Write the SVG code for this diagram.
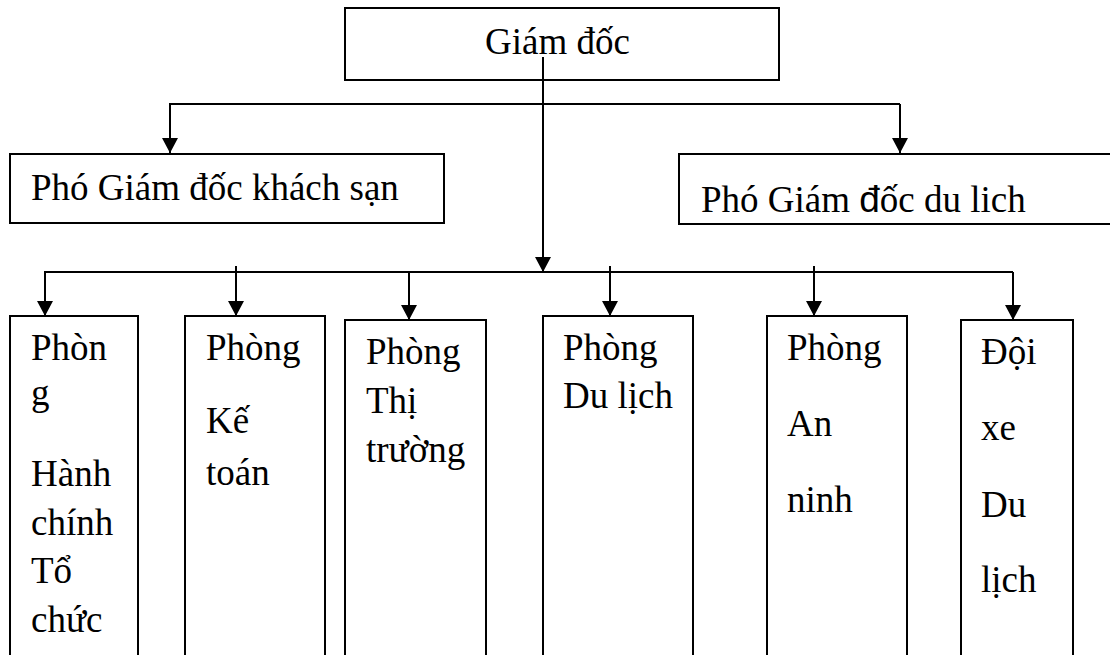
<svg xmlns="http://www.w3.org/2000/svg" width="1110" height="655" viewBox="0 0 1110 655">
<style>
.box{fill:#fff;stroke:#000;stroke-width:2}
.t{font-family:"Liberation Serif","Times New Roman",serif;font-size:37px;fill:#000}
.ln{fill:none;stroke:#000;stroke-width:2}
.sans{font-family:"Liberation Sans",Arial,sans-serif}
</style>
<defs>
<marker id="ah" markerWidth="15" markerHeight="16" refX="15" refY="8" orient="auto" markerUnits="userSpaceOnUse" viewBox="0 0 15 16">
<path d="M0,0 L15,8 L0,16 Z" fill="#000"/>
</marker>
</defs>
<rect width="1110" height="655" fill="#fff"/>
<g id="giam-doc">
<rect class="box" x="345" y="8" width="434" height="72"/>
<text class="t" x="485" y="54">Giám đốc</text>
</g>
<g id="pho-gd-khach-san">
<rect class="box" x="10" y="154" width="434" height="69"/>
<text class="t" x="31" y="200">Phó Giám đốc khách sạn</text>
</g>
<g id="pho-gd-du-lich">
<rect class="box" x="679" y="154" width="440" height="70"/>
<text class="t" x="701" y="212">Phó Giám <tspan class="sans">đ</tspan>ốc du lich</text>
</g>
<g id="phong-hanh-chinh">
<rect class="box" x="10" y="316" width="128" height="350"/>
<text class="t" x="31" y="360">Phòn</text>
<text class="t" x="31" y="405">g</text>
<text class="t" x="31" y="486">Hành</text>
<text class="t" x="31" y="535">chính</text>
<text class="t" x="31" y="583">Tổ</text>
<text class="t" x="31" y="632">chức</text>
</g>
<g id="phong-ke-toan">
<rect class="box" x="185" y="316" width="140" height="350"/>
<text class="t" x="206" y="360">Phòng</text>
<text class="t" x="206" y="433">Kế</text>
<text class="t" x="206" y="485">toán</text>
</g>
<g id="phong-thi-truong">
<rect class="box" x="345" y="320" width="141" height="350"/>
<text class="t" x="366" y="364">Phòng</text>
<text class="t" x="366" y="413">Thị</text>
<text class="t" x="366" y="462">trường</text>
</g>
<g id="phong-du-lich">
<rect class="box" x="543" y="316" width="150" height="350"/>
<text class="t" x="563" y="360">Phòng</text>
<text class="t" x="563" y="408">Du lịch</text>
</g>
<g id="phong-an-ninh">
<rect class="box" x="767" y="316" width="140" height="350"/>
<text class="t" x="787" y="360">Phòng</text>
<text class="t" x="787" y="436">An</text>
<text class="t" x="787" y="512">ninh</text>
</g>
<g id="doi-xe-du-lich">
<rect class="box" x="961" y="320" width="112" height="350"/>
<text class="t" x="981" y="364">Đội</text>
<text class="t" x="981" y="440">xe</text>
<text class="t" x="981" y="517">Du</text>
<text class="t" x="981" y="592">lịch</text>
</g>
<g id="connectors">
<path class="ln" d="M543,57 V272" marker-end="url(#ah)"/>
<path class="ln" d="M900,104 H170 V153" marker-end="url(#ah)"/>
<path class="ln" d="M900,104 V153" marker-end="url(#ah)"/>
<path class="ln" d="M1013,272 H45 V316" marker-end="url(#ah)"/>
<path class="ln" d="M1013,272 V320" marker-end="url(#ah)"/>
<path class="ln" d="M236,266 V316" marker-end="url(#ah)"/>
<path class="ln" d="M409,272 V320" marker-end="url(#ah)"/>
<path class="ln" d="M610,266 V316" marker-end="url(#ah)"/>
<path class="ln" d="M814,266 V316" marker-end="url(#ah)"/>
</g>
</svg>
